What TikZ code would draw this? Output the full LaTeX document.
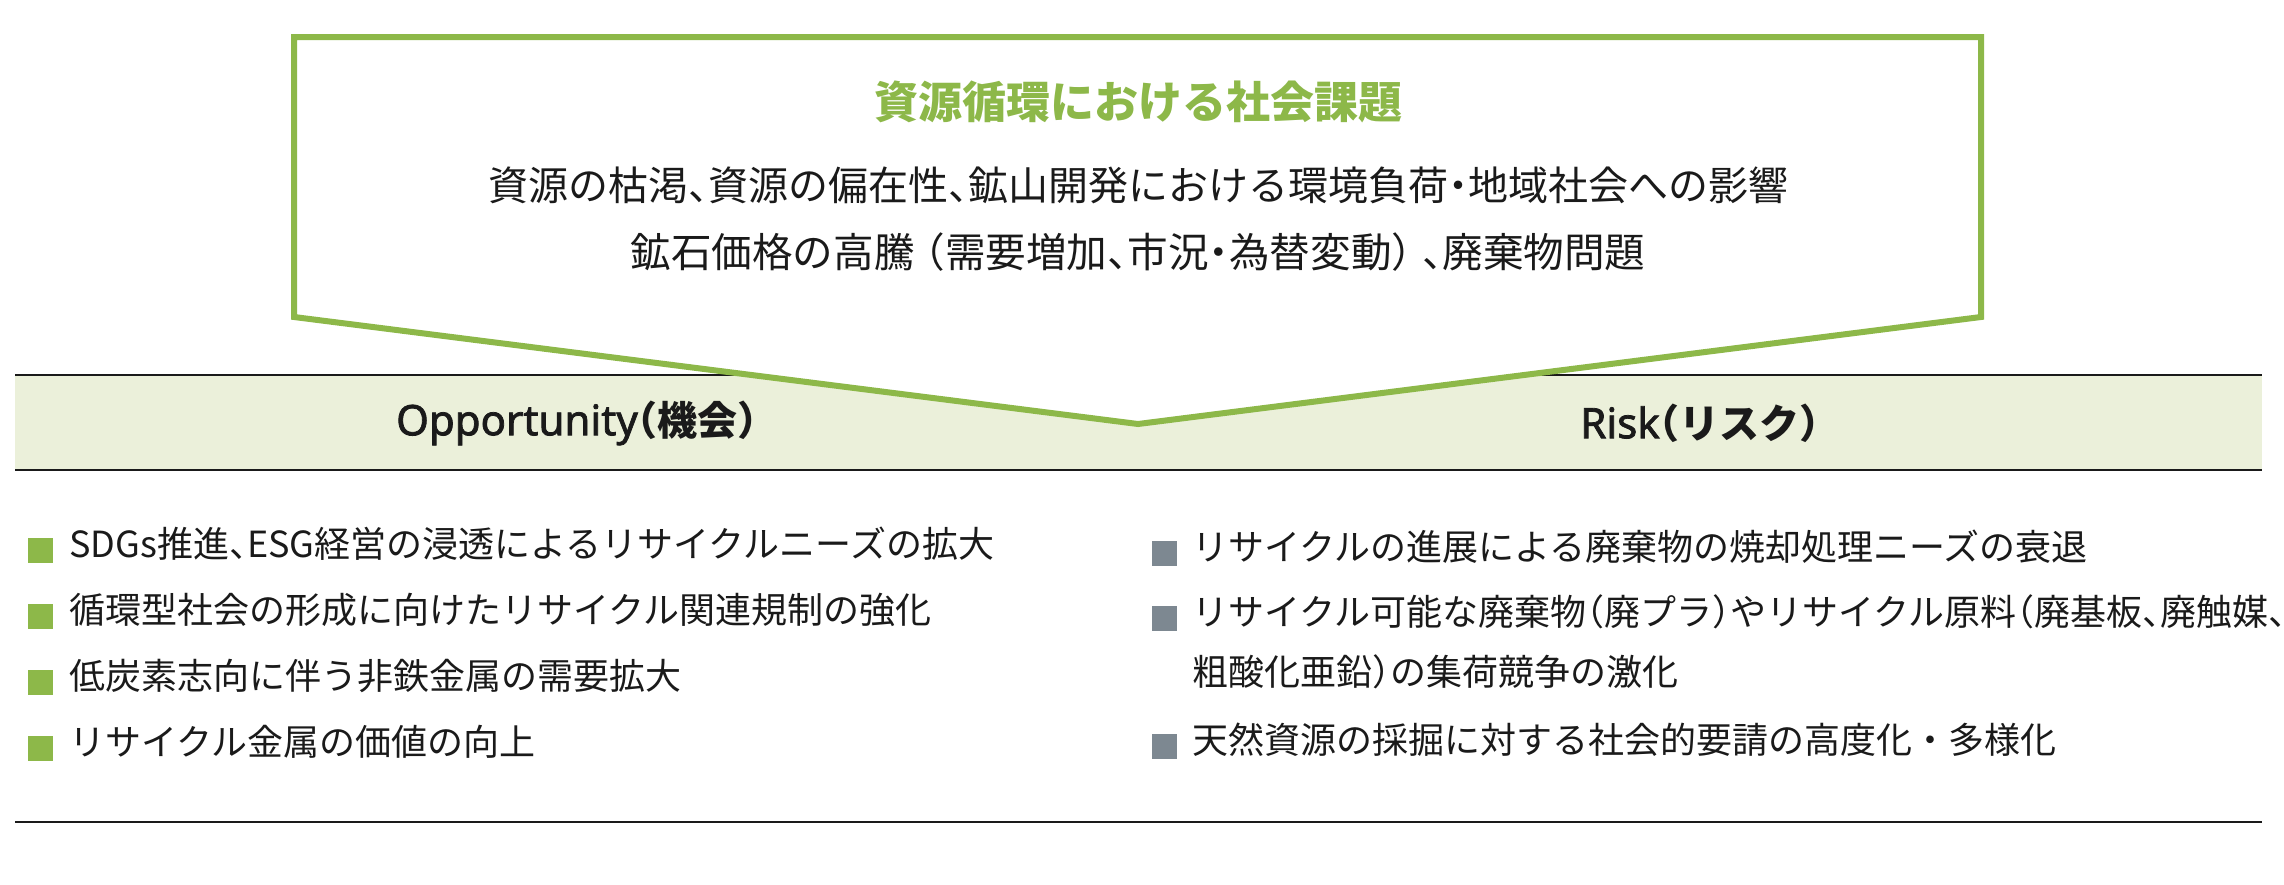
\documentclass[tikz,border=0pt]{standalone}
\usepackage{fontspec}
\setmainfont{Noto Sans CJK JP}[RawFeature=+halt]
\newfontfamily\jpfull{Noto Sans CJK JP}
\newfontfamily\latsb{Noto Sans}[FakeBold=1.8]
\definecolor{grn}{HTML}{8DB849}
\definecolor{bandfill}{HTML}{EBF0DA}
\definecolor{gry}{HTML}{7D8891}
\definecolor{ink}{HTML}{1A1A1A}
\tikzset{
  rule/.style={draw=ink, line width=0.7pt},
  frame/.style={draw=grn, fill=white, line width=3pt, line join=miter},
  titletext/.style={text=grn, inner sep=0pt, font=\fontsize{22pt}{26pt}\selectfont\bfseries},
  leadtext/.style={text=ink, inner sep=0pt, font=\fontsize{20pt}{24pt}\selectfont},
  headtext/.style={text=ink, inner sep=0pt, font=\fontsize{20pt}{24pt}\selectfont\bfseries},
  itemtext/.style={text=ink, inner sep=0pt, anchor=west, text height=0.88em, text depth=0.12em, font=\fontsize{18pt}{22pt}\selectfont},
  gsq/.style={fill=grn, minimum size=12.5pt, inner sep=0pt},
  ysq/.style={fill=gry, minimum size=12.5pt, inner sep=0pt}
}
\begin{document}
\begin{tikzpicture}[x=0.5pt,y=-0.5pt]
\useasboundingbox (0,0) rectangle (2284,884);
% band
\fill[bandfill] (15,375) rectangle (2262,470);
\draw[rule] (15,375) -- (2262,375);
\draw[rule] (15,470) -- (2262,470);
\draw[rule] (15,822) -- (2262,822);
% pentagon
\draw[frame] (294,37) -- (1981,37) -- (1981,317) -- (1138,424) -- (294,317) -- cycle;
% texts
\node[titletext] (title) at (1138,102) {資源循環における社会課題};
\node[leadtext] (lead1) at (1138,185) {資源の枯渇、資源の偏在性、鉱山開発における環境負荷・地域社会への影響};
\node[leadtext] (lead2) at (1138,252) {\fontsize{20.3pt}{24pt}\selectfont 鉱石価格の高騰\hspace{0.25em}（需要増加、市況・為替変動）\hspace{0.25em}、廃棄物問題};
\node[headtext] (opp) at (577,423) {{\fontsize{21pt}{24pt}\latsb Opportunity}（機会）};
\node[headtext] (risk) at (1700,423) {{\fontsize{21pt}{24pt}\latsb Risk}（リスク）};
% opportunity items
\node[gsq] (og1) at (40.5,550) {};
\node[itemtext] (o1) at (69,550) {SDGs推進、ESG経営の浸透によるリサイクルニーズの拡大};
\node[gsq] (og2) at (40.5,616) {};
\node[itemtext] (o2) at (69,616) {循環型社会の形成に向けたリサイクル関連規制の強化};
\node[gsq] (og3) at (40.5,682) {};
\node[itemtext] (o3) at (69,682) {低炭素志向に伴う非鉄金属の需要拡大};
\node[gsq] (og4) at (40.5,748) {};
\node[itemtext] (o4) at (69,748) {リサイクル金属の価値の向上};
% risk items
\node[ysq] (rg1) at (1164,553) {};
\node[itemtext] (r1) at (1192,553) {リサイクルの進展による廃棄物の焼却処理ニーズの衰退};
\node[ysq] (rg2) at (1164,618) {};
\node[itemtext] (r2a) at (1192,618) {リサイクル可能な廃棄物（廃プラ）やリサイクル原料（廃基板、廃触媒、};
\node[itemtext] (r2b) at (1192,678) {粗酸化亜鉛）の集荷競争の激化};
\node[ysq] (rg3) at (1164,746) {};
\node[itemtext] (r3) at (1192,746) {天然資源の採掘に対する社会的要請の高度化{\jpfull ・}多様化};
\end{tikzpicture}
\end{document}
